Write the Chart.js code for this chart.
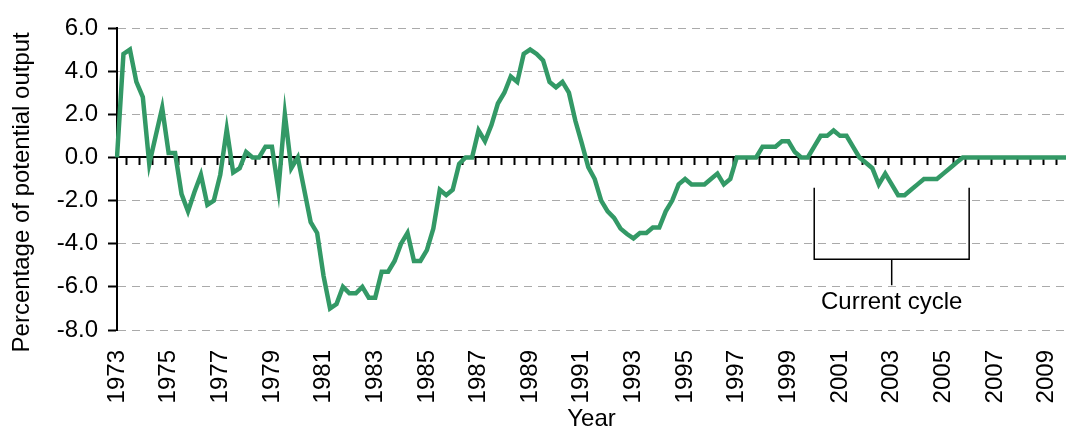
<!DOCTYPE html>
<html>
<head>
<meta charset="utf-8">
<script src="https://cdn.jsdelivr.net/npm/chart.js@4.4.1/dist/chart.umd.min.js"></script>
<style>
  html, body { margin: 0; padding: 0; background: #fff; }
  #wrap { width: 1066px; height: 430px; }
</style>
</head>
<body>
<div id="wrap"><canvas id="gap-chart"></canvas></div>
<script>
// quarters 1973 Q1 .. 2009 Q4
const years = [];
for (let y = 1973; y <= 2009; y++) years.push(y);
const quarters = ['Q1', 'Q2', 'Q3', 'Q4'];
const labels = years.flatMap(y => quarters.map(q => y + ' ' + q));

// output gap, % of potential output
const gap1970s = [0.0, 4.8, 5.0, 3.5, 2.8, -0.3, 1.0, 2.3, 0.2, 0.2, -1.7, -2.5, -1.6, -0.8,
                  -2.2, -2.0, -0.8, 1.3, -0.7, -0.5, 0.25, 0.0, 0.0, 0.5, 0.5, -1.5, 2.0, -0.5];
const gap1980s = [0.0, -1.5, -3.0, -3.5, -5.5, -7.0, -6.8, -6.0, -6.3, -6.3, -6.0, -6.5, -6.5, -5.3,
                  -5.3, -4.8, -4.0, -3.5, -4.8, -4.8, -4.3, -3.3, -1.5, -1.75, -1.5, -0.3, 0.0, 0.0,
                  1.25, 0.75, 1.5, 2.5, 3.0, 3.75, 3.5, 4.8, 5.0, 4.8, 4.5, 3.5];
const gap1990s = [3.25, 3.5, 3.0, 1.7, 0.65, -0.45, -1.0, -2.0, -2.5, -2.8, -3.3, -3.55, -3.75, -3.5,
                  -3.5, -3.25, -3.25, -2.5, -2.0, -1.25, -1.0, -1.25, -1.25, -1.25, -1.0, -0.75, -1.25, -1.0,
                  0.0, 0.0, 0.0, 0.0, 0.5, 0.5, 0.5, 0.75, 0.75, 0.25, 0.0, 0.0];
const gap2000s = [0.5, 1.0, 1.0, 1.25, 1.0, 1.0, 0.5, 0.0, -0.25, -0.5, -1.25, -0.75, -1.25, -1.75,
                  -1.75, -1.5, -1.25, -1.0, -1.0, -1.0, -0.75, -0.5, -0.25, 0.0,
                  0.0, 0.0, 0.0, 0.0, 0.0, 0.0, 0.0, 0.0, 0.0, 0.0, 0.0, 0.0, 0.0, 0.0, 0.0, 0.0];
const outputGap = [].concat(gap1970s, gap1980s, gap1990s, gap2000s);

// "Current cycle" bracket
const cycleStart = '2000 Q1';
const cycleEnd = '2006 Q1';
const cycleText = 'Current cycle';

const FONT = 'Liberation Sans, Arial, sans-serif';
const FSIZE = 24;

const cycleBracket = {
    id: 'cycleBracket',
    afterDatasetsDraw(chart) {
        const { ctx, scales: { x, y } } = chart;
        const x1 = x.getPixelForValue(labels.indexOf(cycleStart));
        const x2 = x.getPixelForValue(labels.indexOf(cycleEnd));
        const xm = (x1 + x2) / 2;
        const yTop = y.getPixelForValue(-1.4);
        const yBot = y.getPixelForValue(-4.72);
        const yStem = y.getPixelForValue(-5.92);
        ctx.save();
        ctx.strokeStyle = '#000';
        ctx.lineWidth = 1.5;
        ctx.beginPath();
        ctx.moveTo(x1, yTop);
        ctx.lineTo(x1, yBot);
        ctx.lineTo(x2, yBot);
        ctx.lineTo(x2, yTop);
        ctx.moveTo(xm, yBot);
        ctx.lineTo(xm, yStem);
        ctx.stroke();
        ctx.fillStyle = '#000';
        ctx.font = FSIZE + 'px ' + FONT;
        ctx.textAlign = 'center';
        ctx.textBaseline = 'middle';
        ctx.fillText(cycleText, xm, y.getPixelForValue(-6.72));
        ctx.restore();
    }
};

const ctx = document.getElementById('gap-chart').getContext('2d');
new Chart(ctx, {
    type: 'line',
    data: {
        labels: labels,
        datasets: [{
            data: outputGap,
            borderColor: '#339966',
            borderWidth: 4.5,
            pointRadius: 0,
            tension: 0,
            fill: false
        }]
    },
    options: {
        responsive: true,
        maintainAspectRatio: false,
        animation: false,
        layout: { padding: { top: 28, right: 0, bottom: 0, left: 0 } },
        plugins: { legend: { display: false }, tooltip: { enabled: false } },
        scales: {
            x: {
                type: 'category',
                position: 'bottom',
                grid: { display: false, drawTicks: false },
                border: { display: false },
                ticks: {
                    autoSkip: false,
                    minRotation: 90,
                    maxRotation: 90,
                    padding: 20,
                    color: '#000',
                    font: { family: FONT, size: FSIZE },
                    callback: (v, i) => i % 8 === 0 ? labels[i].slice(0, 4) : ''
                },
                title: {
                    display: true,
                    text: 'Year',
                    color: '#000',
                    font: { family: FONT, size: FSIZE },
                    padding: { top: 0, bottom: -4 }
                },
                afterFit: s => { s.height = 100; s.paddingLeft = 0; s.paddingRight = 0; }
            },
            x2: {
                type: 'category',
                position: { y: 0 },
                grid: {
                    offset: true,
                    drawOnChartArea: false,
                    tickLength: 7,
                    tickWidth: 2,
                    tickBorderDash: [],
                    tickColor: c => (c.index % 2 === 0 ? '#000' : 'rgba(0,0,0,0)')
                },
                border: { display: true, color: '#000', width: 2 },
                ticks: { display: false, autoSkip: false }
            },
            y: {
                min: -8,
                max: 6,
                ticks: {
                    stepSize: 2,
                    padding: 10,
                    color: '#000',
                    font: { family: FONT, size: FSIZE },
                    callback: v => v.toFixed(1)
                },
                grid: {
                    color: c => (c.tick && c.tick.value === 0 ? 'rgba(0,0,0,0)' : '#aaaaaa'),
                    lineWidth: 1,
                    tickLength: 9,
                    tickWidth: 2,
                    tickColor: '#000',
                    tickBorderDash: []
                },
                border: { display: true, color: '#000', width: 2, dash: [8, 6] },
                title: {
                    display: true,
                    text: 'Percentage of potential output    ',
                    color: '#000',
                    font: { family: FONT, size: FSIZE },
                    padding: { top: 8, bottom: 0 }
                },
                afterFit: s => { s.width = 117; }
            }
        }
    },
    plugins: [cycleBracket]
});
</script>
</body>
</html>
